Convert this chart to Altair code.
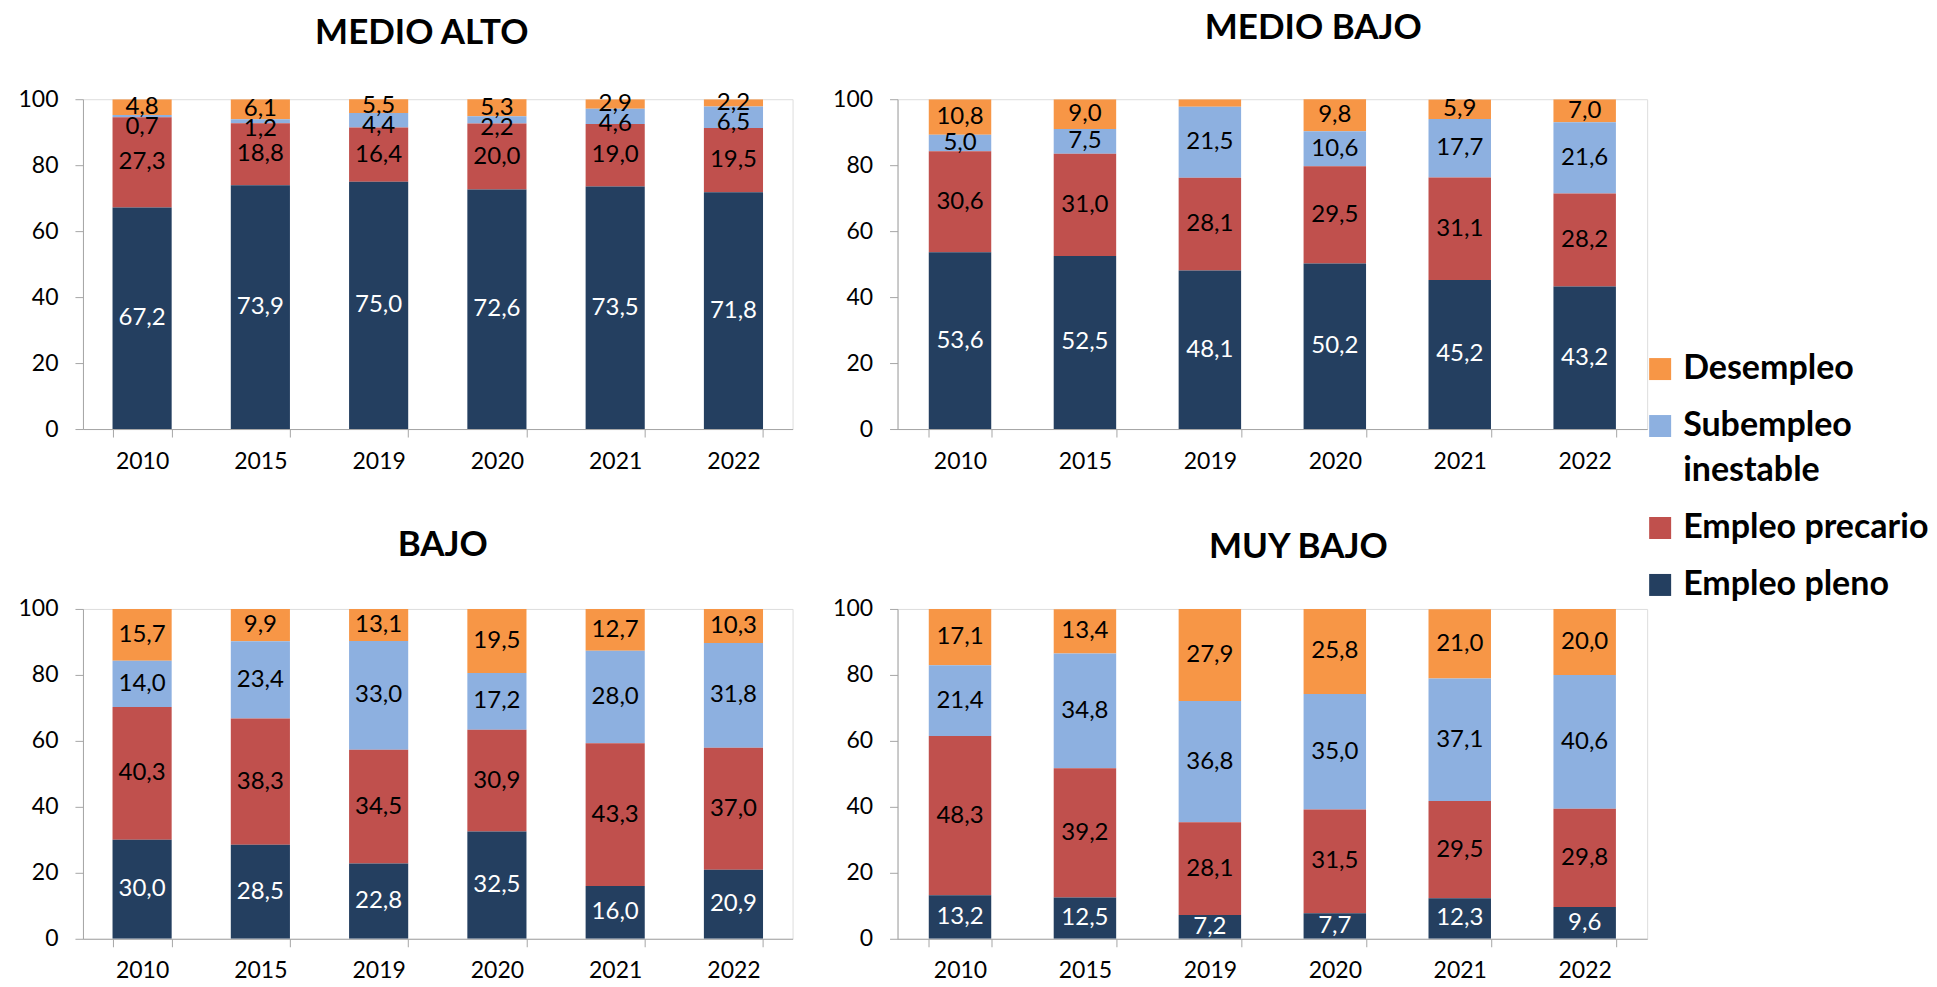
import altair as alt
import pandas as pd

years = ["2010", "2015", "2019", "2020", "2021", "2022"]
series_stack = ["Empleo pleno", "Empleo precario", "Subempleo inestable", "Desempleo"]
legend_order = ["Desempleo", "Subempleo inestable", "Empleo precario", "Empleo pleno"]
legend_colors = ["#F79646", "#8DB0E0", "#C0504D", "#243F60"]
panels = ["MEDIO ALTO", "MEDIO BAJO", "BAJO", "MUY BAJO"]

# MEDIO ALTO
ma_pleno = [67.2, 73.9, 75.0, 72.6, 73.5, 71.8]
ma_precario = [27.3, 18.8, 16.4, 20.0, 19.0, 19.5]
ma_subempleo = [0.7, 1.2, 4.4, 2.2, 4.6, 6.5]
ma_desempleo = [4.8, 6.1, 5.5, 5.3, 2.9, 2.2]
# MEDIO BAJO
mb_pleno = [53.6, 52.5, 48.1, 50.2, 45.2, 43.2]
mb_precario = [30.6, 31.0, 28.1, 29.5, 31.1, 28.2]
mb_subempleo = [5.0, 7.5, 21.5, 10.6, 17.7, 21.6]
mb_desempleo = [10.8, 9.0, 2.3, 9.8, 5.9, 7.0]
# BAJO
b_pleno = [30.0, 28.5, 22.8, 32.5, 16.0, 20.9]
b_precario = [40.3, 38.3, 34.5, 30.9, 43.3, 37.0]
b_subempleo = [14.0, 23.4, 33.0, 17.2, 28.0, 31.8]
b_desempleo = [15.7, 9.9, 13.1, 19.5, 12.7, 10.3]
# MUY BAJO
mub_pleno = [13.2, 12.5, 7.2, 7.7, 12.3, 9.6]
mub_precario = [48.3, 39.2, 28.1, 31.5, 29.5, 29.8]
mub_subempleo = [21.4, 34.8, 36.8, 35.0, 37.1, 40.6]
mub_desempleo = [17.1, 13.4, 27.9, 25.8, 21.0, 20.0]

# labels not printed in the original
hidden_labels = [("MEDIO BAJO", "2019", "Desempleo")]

panel_data = {
    "MEDIO ALTO": [ma_pleno, ma_precario, ma_subempleo, ma_desempleo],
    "MEDIO BAJO": [mb_pleno, mb_precario, mb_subempleo, mb_desempleo],
    "BAJO": [b_pleno, b_precario, b_subempleo, b_desempleo],
    "MUY BAJO": [mub_pleno, mub_precario, mub_subempleo, mub_desempleo],
}

rows = []
for p in panels:
    vals = panel_data[p]
    for i, yr in enumerate(years):
        base = 0.0
        segs = []
        for k, s in enumerate(series_stack):
            v = vals[k][i]
            segs.append((s, v, base, base + v))
            base += v
        prev = None
        for s, v, b, t in reversed(segs):
            vt, vb = min(t, 100.0), min(b, 100.0)
            mid = (vb + vt) / 2
            ly = mid if prev is None else min(mid, prev - 6.0)
            prev = ly
            lab = "" if (p, yr, s) in hidden_labels else f"{v:.1f}".replace(".", ",")
            rows.append(dict(panel=p, year=yr, series=s, value=v, y0=b, y1=t,
                             label_y=ly, label=lab))
df = pd.DataFrame(rows)

FONT = "Lato"


def make_panel(name, width, title_dx, title_offset):
    d = df[df.panel == name]
    x = alt.X("year:N", sort=years, title=None,
              scale=alt.Scale(paddingInner=0.5, paddingOuter=0.25),
              axis=alt.Axis(labelAngle=0, tickBand="extent", tickSize=8,
                            labelPadding=13, domainColor="#A6A6A6",
                            tickColor="#A6A6A6", labelFontSize=23,
                            labelColor="black", grid=False))
    bars = alt.Chart(d).mark_bar(clip=True).encode(
        x=x,
        y=alt.Y("y0:Q", title=None, scale=alt.Scale(domain=[0, 100], nice=False),
                axis=alt.Axis(values=[0, 20, 40, 60, 80, 100], tickSize=8,
                              labelPadding=17, domainColor="#A6A6A6",
                              tickColor="#A6A6A6", labelFontSize=23,
                              labelColor="black", grid=False)),
        y2="y1:Q",
        color=alt.Color("series:N",
                        scale=alt.Scale(domain=legend_order, range=legend_colors),
                        legend=alt.Legend(
                            title=None, orient="none", legendX=1561, legendY=253,
                            symbolType="square", symbolSize=484,
                            symbolStrokeWidth=0, labelFontSize=34,
                            labelFontWeight="bold", labelFont=FONT,
                            labelColor="black", rowPadding=23, labelOffset=6,
                            labelLimit=400,
                            labelExpr="datum.label == 'Subempleo inestable' ? ['Subempleo', 'inestable'] : datum.label")),
    )
    text = alt.Chart(d).mark_text(fontSize=24, font=FONT, baseline="middle").encode(
        x=alt.X("year:N", sort=years),
        y=alt.Y("label_y:Q"),
        text="label:N",
        color=alt.condition(alt.datum.series == "Empleo pleno",
                            alt.value("white"), alt.value("black")),
    )
    return alt.layer(bars, text).properties(
        width=width, height=330,
        title=alt.TitleParams(name, fontSize=35, font=FONT, fontWeight="bold",
                              color="black", anchor="middle", frame="group",
                              dx=title_dx, offset=title_offset),
    )


tl = make_panel("MEDIO ALTO", 710, -16, 37)
tr = make_panel("MEDIO BAJO", 750, 41, 42)
bl = make_panel("BAJO", 710, 5, 35)
br = make_panel("MUY BAJO", 750, 26, 33)

chart = alt.concat(tl, tr, bl, br, columns=2, spacing={"row": 180, "column": 105},
                   bounds="flush").properties(
    padding={"left": 9, "top": 2, "right": 0, "bottom": 0}
).configure_view(stroke=None).configure(
    font=FONT, style={"guide-label": {"lineHeight": 45}}
)

chart.save("out.html", embed_options={"renderer": "svg", "actions": False})
